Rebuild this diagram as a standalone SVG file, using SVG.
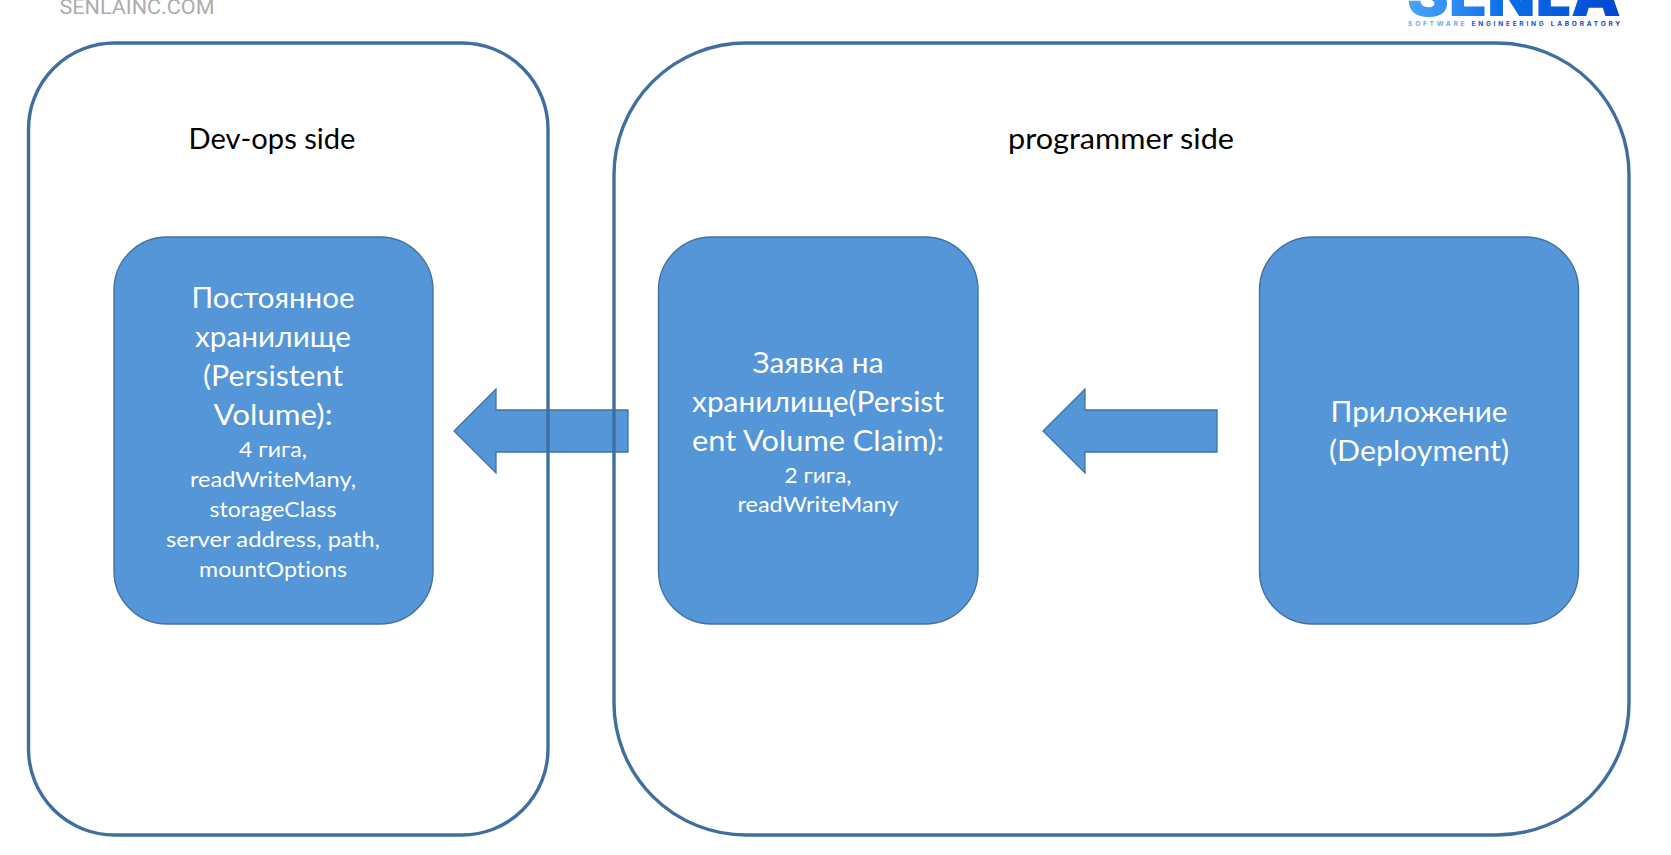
<svg xmlns="http://www.w3.org/2000/svg" width="1671" height="855" viewBox="0 0 1671 855">
<defs>
<style>
.side{fill:none;stroke:#3f6f9f;stroke-width:3.4}
.node{fill:#5496d7;stroke:#44719f;stroke-width:1.4}
.arrow{fill:#5496d7;stroke:#44719f;stroke-width:1.3}
text{font-family:"Lato","Open Sans","Noto Sans",sans-serif;text-anchor:middle;font-variant-ligatures:none}
.t{fill:#fff;font-size:28px}
.s{fill:#fff;font-size:22px}
.h{fill:#000;font-size:29px}
</style>
<linearGradient id="logo" gradientUnits="userSpaceOnUse" x1="1408" y1="0" x2="1620" y2="0">
<stop offset="0" stop-color="#4aa6fb"/><stop offset=".45" stop-color="#0a6fe8"/><stop offset="1" stop-color="#0546d2"/>
</linearGradient>
</defs>
<rect width="1671" height="855" fill="#fff"/>
<g id="connectors">
<path id="arrow-pvc-pv" class="arrow" d="M628 410H496V389L454 431L496 473V452H628Z"/>
<path id="arrow-app-pvc" class="arrow" d="M1217 410H1085V389L1043 431L1085 473V452H1217Z"/>
</g>
<g id="devops-side">
<rect class="side" x="28.5" y="43" width="519.5" height="792" rx="86" ry="86"/>
<text class="h" x="272" y="149" textLength="167" lengthAdjust="spacingAndGlyphs">Dev-ops side</text>
</g>
<g id="programmer-side">
<rect class="side" x="614" y="43" width="1015" height="792" rx="132" ry="132"/>
<text class="h" x="1121" y="149" textLength="226" lengthAdjust="spacingAndGlyphs">programmer side</text>
</g>
<g id="pv">
<rect class="node" x="114" y="237" width="319" height="387" rx="53" ry="53"/>
<text class="t" x="273" y="308" textLength="163" lengthAdjust="spacingAndGlyphs">Постоянное</text>
<text class="t" x="273" y="347" textLength="156" lengthAdjust="spacingAndGlyphs">хранилище</text>
<text class="t" x="273" y="385.5" textLength="140" lengthAdjust="spacingAndGlyphs">(Persistent</text>
<text class="t" x="273" y="424.5" textLength="119" lengthAdjust="spacingAndGlyphs">Volume):</text>
<text class="s" x="273" y="456.5" textLength="68" lengthAdjust="spacingAndGlyphs">4 гига,</text>
<text class="s" x="273" y="487" textLength="166" lengthAdjust="spacingAndGlyphs">readWriteMany,</text>
<text class="s" x="273" y="517" textLength="127" lengthAdjust="spacingAndGlyphs">storageClass</text>
<text class="s" x="273" y="547" textLength="214" lengthAdjust="spacingAndGlyphs">server address, path,</text>
<text class="s" x="273" y="577" textLength="148" lengthAdjust="spacingAndGlyphs">mountOptions</text>
</g>
<g id="pvc">
<rect class="node" x="658.5" y="237" width="319.5" height="387" rx="53" ry="53"/>
<text class="t" x="818" y="373" textLength="131" lengthAdjust="spacingAndGlyphs">Заявка на</text>
<text class="t" x="818" y="412" textLength="252" lengthAdjust="spacingAndGlyphs">хранилище(Persist</text>
<text class="t" x="818" y="450.5" textLength="252" lengthAdjust="spacingAndGlyphs">ent Volume Claim):</text>
<text class="s" x="818" y="482.5" textLength="67" lengthAdjust="spacingAndGlyphs">2 гига,</text>
<text class="s" x="818" y="512" textLength="161" lengthAdjust="spacingAndGlyphs">readWriteMany</text>
</g>
<g id="app">
<rect class="node" x="1259.5" y="237" width="319" height="387" rx="53" ry="53"/>
<text class="t" x="1419" y="422" textLength="177" lengthAdjust="spacingAndGlyphs">Приложение</text>
<text class="t" x="1419" y="460.5" textLength="180" lengthAdjust="spacingAndGlyphs">(Deployment)</text>
</g>
<g id="watermark">
<text x="137" y="14" textLength="155" lengthAdjust="spacingAndGlyphs" style="font-family:Roboto,sans-serif;font-size:20px;fill:#adadad">SENLAINC.COM</text>
</g>
<g id="logo-mark">
<text x="1514" y="15.5" textLength="214" lengthAdjust="spacingAndGlyphs" style="font-family:Inter,Roboto,sans-serif;font-size:60px;font-weight:900;fill:url(#logo)">SENLA</text>
<text x="1515.5" y="26" style="font-family:Inter,Roboto,sans-serif;font-size:6.6px;font-weight:700;letter-spacing:2.72px;fill:#0a5bd0"><tspan fill="#62acf5">SOFTWARE</tspan> ENGINEERING <tspan fill="#1448b4">LABORATORY</tspan></text>
</g>
</svg>
